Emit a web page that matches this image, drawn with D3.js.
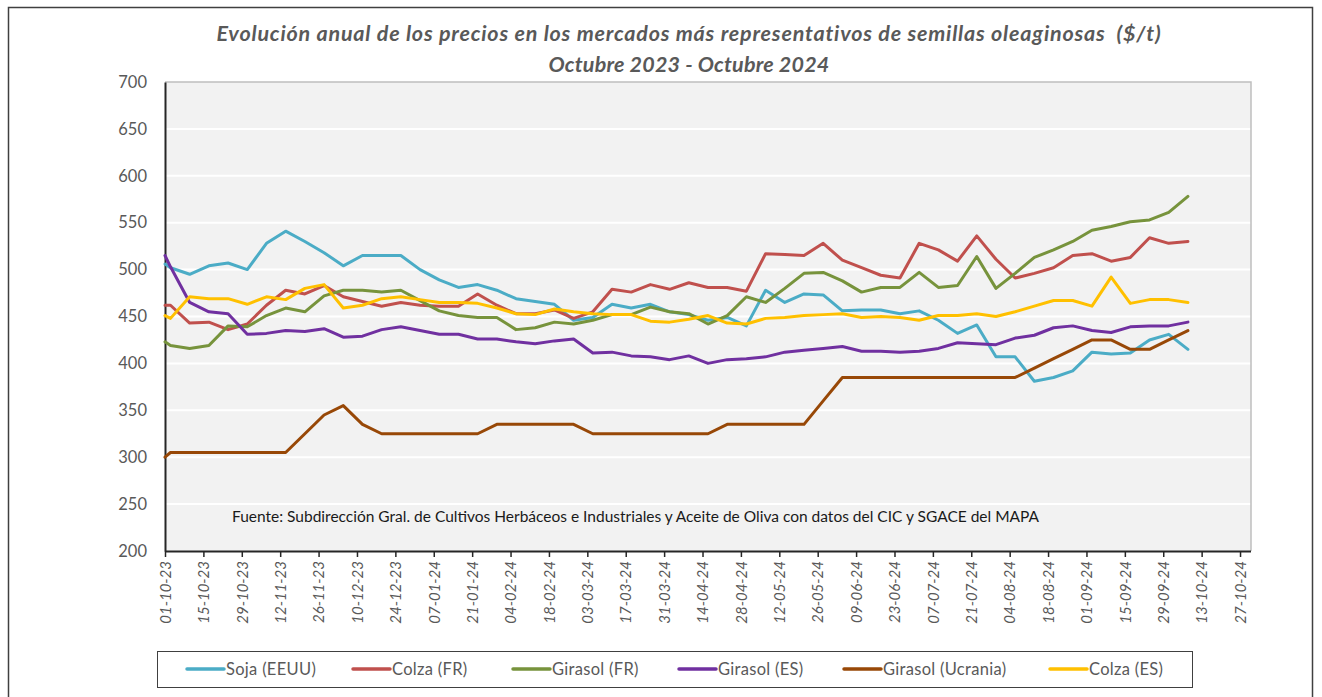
<!DOCTYPE html>
<html>
<head>
<meta charset="utf-8">
<script src="https://cdn.jsdelivr.net/npm/d3@7"></script>
<style>
  html, body { margin: 0; padding: 0; background: #ffffff; }
  svg { display: block; }
  text { font-family: Lato, "Open Sans", "Noto Sans", sans-serif; white-space: pre; }
</style>
</head>
<body>
<svg id="chart" width="1322" height="697"></svg>
<script>
// ---------------- DATA ----------------
const titleLines = [
  "Evolución anual de los precios en los mercados más representativos de semillas oleaginosas  ($/t)",
  "Octubre 2023 - Octubre 2024"
];
const sourceNote = "Fuente: Subdirección Gral. de Cultivos Herbáceos e Industriales y Aceite de Oliva con datos del CIC y SGACE del MAPA";

const dates = [
  "01-10-23","03-10-23","10-10-23","17-10-23","24-10-23","31-10-23",
  "07-11-23","14-11-23","21-11-23","28-11-23",
  "05-12-23","12-12-23","19-12-23","26-12-23",
  "02-01-24","09-01-24","16-01-24","23-01-24","30-01-24",
  "06-02-24","13-02-24","20-02-24","27-02-24",
  "05-03-24","12-03-24","19-03-24","26-03-24",
  "02-04-24","09-04-24","16-04-24","23-04-24","30-04-24",
  "07-05-24","14-05-24","21-05-24","28-05-24",
  "04-06-24","11-06-24","18-06-24","25-06-24",
  "02-07-24","09-07-24","16-07-24","23-07-24","30-07-24",
  "06-08-24","13-08-24","20-08-24","27-08-24",
  "03-09-24","10-09-24","17-09-24","24-09-24",
  "01-10-24","08-10-24"
];

const sojaEEUU = [506,502,495,504,507,500,528,541,530,518,504,515,515,515,500,489,481,484,478,469,466,463,446,449,463,459,463,455,452,446,449,440,478,465,474,473,456,457,457,453,456,446,432,441,407,407,381,385,392,412,410,411,425,431,415];
const colzaFR  = [462,462,443,444,436,442,462,478,474,483,471,466,461,465,462,461,461,474,462,453,453,457,448,455,479,476,484,479,486,481,481,477,517,516,515,528,510,502,494,491,528,521,509,536,511,491,496,502,515,517,509,513,534,528,530];
const girasolFR = [423,419,416,419,440,439,451,459,455,472,478,478,476,478,467,456,451,449,449,436,438,444,442,446,452,452,460,455,453,442,451,471,465,480,496,497,488,476,481,481,497,481,483,514,480,496,513,521,530,542,546,551,553,561,578];
const girasolES = [515,503,465,455,453,431,432,435,434,437,428,429,436,439,435,431,431,426,426,423,421,424,426,411,412,408,407,404,408,400,404,405,407,412,414,416,418,413,413,412,413,416,422,421,420,427,430,438,440,435,433,439,440,440,444];
const girasolUcrania = [300,305,305,305,305,305,305,305,325,345,355,335,325,325,325,325,325,325,335,335,335,335,335,325,325,325,325,325,325,325,335,335,335,335,335,360,385,385,385,385,385,385,385,385,385,385,395,405,415,425,425,415,415,425,435];
const colzaES  = [451,448,471,469,469,463,471,468,480,484,459,462,469,471,468,465,465,464,459,453,452,458,455,453,452,452,445,444,447,451,443,442,448,449,451,452,453,449,450,449,446,451,451,453,450,455,461,467,467,461,492,464,468,468,465];

const seriesNames  = ["Soja (EEUU)","Colza (FR)","Girasol (FR)","Girasol (ES)","Girasol (Ucrania)","Colza (ES)"];
const seriesValues = [sojaEEUU, colzaFR, girasolFR, girasolES, girasolUcrania, colzaES];
const seriesColors = ["#4bacc6","#c0504d","#77933c","#7030a0","#984807","#ffc000"];

const xTickLabels = [
  "01-10-23","15-10-23","29-10-23","12-11-23","26-11-23","10-12-23","24-12-23",
  "07-01-24","21-01-24","04-02-24","18-02-24","03-03-24","17-03-24","31-03-24",
  "14-04-24","28-04-24","12-05-24","26-05-24","09-06-24","23-06-24","07-07-24",
  "21-07-24","04-08-24","18-08-24","01-09-24","15-09-24","29-09-24","13-10-24","27-10-24"
];
const yTicks = [200,250,300,350,400,450,500,550,600,650,700];
const xDomain = ["01-10-23","31-10-24"];

// ---------------- CHART ----------------
const parse = s => { const [d,m,y] = s.split("-").map(Number); return new Date(Date.UTC(2000+y, m-1, d)); };

const W = 1322, H = 697;
const plot = { left: 165, right: 1251, top: 82, bottom: 551 };
const svg = d3.select("#chart");

svg.append("rect").attr("width", W).attr("height", H).attr("fill", "#ffffff");

// outer frame
svg.append("path")
  .attr("d", `M8.5,${H+2} L8.5,7.5 L1312.5,7.5 L1312.5,${H+2}`)
  .attr("fill", "none").attr("stroke", "#404040").attr("stroke-width", 1.5);

const x = d3.scaleUtc().domain(xDomain.map(parse)).range([plot.left, plot.right]);
const y = d3.scaleLinear().domain([200, 700]).range([plot.bottom, plot.top]);

// plot background
svg.append("rect")
  .attr("x", plot.left).attr("y", plot.top)
  .attr("width", plot.right - plot.left).attr("height", plot.bottom - plot.top)
  .attr("fill", "#f2f2f2");

// gridlines
svg.append("g").selectAll("line")
  .data(yTicks.filter(v => v > 200 && v < 700))
  .join("line")
  .attr("x1", plot.left).attr("x2", plot.right)
  .attr("y1", d => y(d)).attr("y2", d => y(d))
  .attr("stroke", "#ffffff").attr("stroke-width", 2);

// top & right border of plot area
svg.append("path")
  .attr("d", `M${plot.left},${plot.top} L${plot.right},${plot.top} L${plot.right},${plot.bottom}`)
  .attr("fill", "none").attr("stroke", "#bfbfbf").attr("stroke-width", 1.5);

// title
svg.append("g").selectAll("text")
  .data(titleLines)
  .join("text")
  .attr("x", 689).attr("y", (d, i) => 41 + i * 31)
  .attr("text-anchor", "middle")
  .attr("font-size", 21.5).attr("font-weight", "bold").attr("font-style", "italic")
  .attr("letter-spacing", (d, i) => i === 0 ? 0.8 : 0.2)
  .attr("fill", "#595959")
  .text(d => d);

// y axis
const yAxis = svg.append("g")
  .attr("transform", `translate(${plot.left},0)`)
  .call(d3.axisLeft(y).tickValues(yTicks).tickSize(0).tickPadding(18).tickFormat(d3.format("d")));
yAxis.select(".domain").attr("stroke", "#262626").attr("stroke-width", 2);
yAxis.selectAll("text").attr("font-size", 16.5).attr("fill", "#595959")
  .attr("font-family", "Lato, 'Open Sans', sans-serif");

// x axis
const xAxis = svg.append("g")
  .attr("transform", `translate(0,${plot.bottom})`)
  .call(d3.axisBottom(x).tickValues(xTickLabels.map(parse)).tickSize(6)
        .tickFormat((d, i) => xTickLabels[i]));
xAxis.select(".domain").attr("stroke", "#262626").attr("stroke-width", 2)
  .attr("d", `M${plot.left},0.5H${plot.right}`);
xAxis.selectAll(".tick line").attr("stroke", "#262626").attr("stroke-width", 1.5);
xAxis.selectAll("text")
  .attr("font-size", 15).attr("font-style", "italic").attr("fill", "#595959")
  .attr("font-family", "Lato, 'Open Sans', sans-serif")
  .attr("text-anchor", "end")
  .attr("transform", "rotate(-90)")
  .attr("x", -10).attr("y", 0).attr("dy", "0.35em");

// source note
svg.append("text")
  .attr("x", 232).attr("y", 522)
  .attr("font-size", 15.5).attr("fill", "#1a1a1a")
  .text(sourceNote);

// lines
const line = d3.line()
  .x((d, i) => x(parse(dates[i])))
  .y(d => y(d));

svg.append("g").selectAll("path")
  .data(seriesValues)
  .join("path")
  .attr("d", d => line(d))
  .attr("fill", "none")
  .attr("stroke", (d, i) => seriesColors[i])
  .attr("stroke-width", 3)
  .attr("stroke-linejoin", "round")
  .attr("stroke-linecap", "round");

// legend
const legend = svg.append("g");
legend.append("rect")
  .attr("x", 157.5).attr("y", 651.5).attr("width", 1035).attr("height", 36)
  .attr("fill", "#ffffff").attr("stroke", "#404040").attr("stroke-width", 1);
const legendX = [187, 353, 513, 679, 844, 1050];
const items = legend.selectAll("g.item")
  .data(seriesNames)
  .join("g").attr("class", "item")
  .attr("transform", (d, i) => `translate(${legendX[i]},669)`);
items.append("line")
  .attr("x1", 0).attr("x2", 37).attr("y1", 0).attr("y2", 0)
  .attr("stroke", (d, i) => seriesColors[i]).attr("stroke-width", 3.5)
  .attr("stroke-linecap", "round");
items.append("text")
  .attr("x", 39).attr("y", 0).attr("dy", "0.35em")
  .attr("font-size", 16.5).attr("letter-spacing", 0.3).attr("fill", "#595959")
  .text(d => d);
</script>
</body>
</html>
